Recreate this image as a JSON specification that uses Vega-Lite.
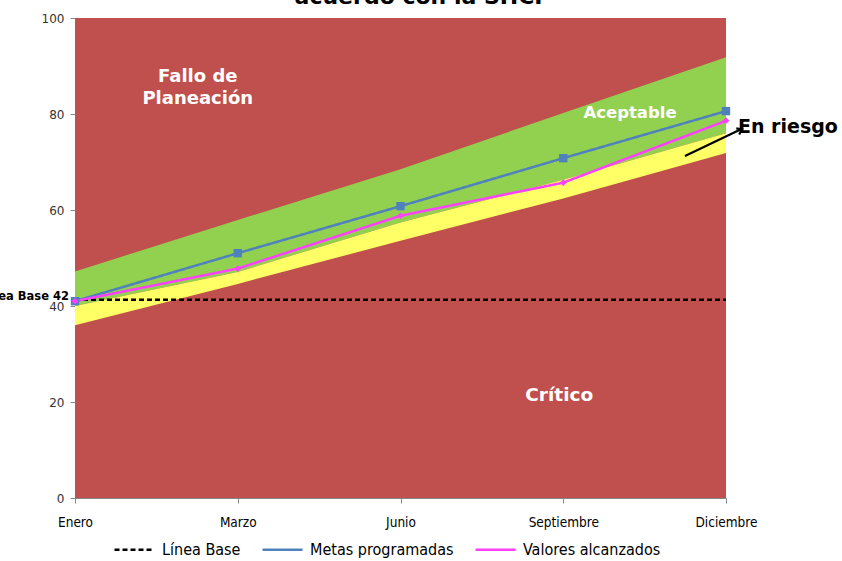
{
  "$schema": "https://vega.github.io/schema/vega-lite/v6.json",
  "autosize": {"type": "none"},
  "width": 651,
  "height": 480,
  "padding": {"left": 75, "top": 18, "right": 116, "bottom": 63},
  "background": "white",
  "datasets": {
    "bandas": [
      {"mes": "Enero", "piso": 0, "techo": 100, "amar_bajo": 36, "amar_alto": 40, "verde_alto": 47.2},
      {"mes": "Marzo", "piso": 0, "techo": 100, "amar_bajo": 44.6, "amar_alto": 47.1, "verde_alto": 57.9},
      {"mes": "Junio", "piso": 0, "techo": 100, "amar_bajo": 53.6, "amar_alto": 57.4, "verde_alto": 68.5},
      {"mes": "Septiembre", "piso": 0, "techo": 100, "amar_bajo": 62.4, "amar_alto": 66.3, "verde_alto": 80.2},
      {"mes": "Diciembre", "piso": 0, "techo": 100, "amar_bajo": 71.9, "amar_alto": 76, "verde_alto": 91.8}
    ],
    "series": [
      {"mes": "Enero", "serie": "Línea Base", "valor": 41.3},
      {"mes": "Marzo", "serie": "Línea Base", "valor": 41.3},
      {"mes": "Junio", "serie": "Línea Base", "valor": 41.3},
      {"mes": "Septiembre", "serie": "Línea Base", "valor": 41.3},
      {"mes": "Diciembre", "serie": "Línea Base", "valor": 41.3},
      {"mes": "Enero", "serie": "Metas programadas", "valor": 41},
      {"mes": "Marzo", "serie": "Metas programadas", "valor": 51},
      {"mes": "Junio", "serie": "Metas programadas", "valor": 60.8},
      {"mes": "Septiembre", "serie": "Metas programadas", "valor": 70.8},
      {"mes": "Diciembre", "serie": "Metas programadas", "valor": 80.6},
      {"mes": "Enero", "serie": "Valores alcanzados", "valor": 41},
      {"mes": "Marzo", "serie": "Valores alcanzados", "valor": 47.8},
      {"mes": "Junio", "serie": "Valores alcanzados", "valor": 58.8},
      {"mes": "Septiembre", "serie": "Valores alcanzados", "valor": 65.7},
      {"mes": "Diciembre", "serie": "Valores alcanzados", "valor": 78.6}
    ]
  },
  "config": {
    "view": {"stroke": null},
    "axis": {"grid": false}
  },
  "encoding": {
    "x": {
      "field": "mes",
      "type": "ordinal",
      "sort": ["Enero", "Marzo", "Junio", "Septiembre", "Diciembre"],
      "scale": {"type": "point", "padding": 0, "domain": ["Enero", "Marzo", "Junio", "Septiembre", "Diciembre"]},
      "axis": {
        "title": null,
        "labelAngle": 0,
        "labelFont": "DejaVu Sans Condensed, Liberation Sans",
        "labelFontSize": 13.5,
        "labelColor": "#000000",
        "labelPadding": 12,
        "tickSize": 5,
        "tickColor": "#868686",
        "domainColor": "#868686"
      }
    }
  },
  "layer": [
    {
      "data": {"name": "bandas"},
      "mark": {"type": "area", "color": "#C0504D", "opacity": 1},
      "encoding": {
        "y": {
          "field": "piso",
          "type": "quantitative",
          "scale": {"domain": [0, 100], "nice": false},
          "axis": {
            "title": null,
            "values": [0, 20, 40, 60, 80, 100],
            "labelFont": "DejaVu Sans",
            "labelFontSize": 12,
            "labelColor": "#333333",
            "labelPadding": 6,
            "tickSize": 5,
            "tickColor": "#868686",
            "domainColor": "#868686"
          }
        },
        "y2": {"field": "techo"}
      }
    },
    {
      "data": {"name": "bandas"},
      "mark": {"type": "area", "color": "#92D050", "opacity": 1},
      "encoding": {
        "y": {"field": "amar_alto", "type": "quantitative"},
        "y2": {"field": "verde_alto"}
      }
    },
    {
      "data": {"name": "bandas"},
      "mark": {"type": "area", "color": "#FFFF66", "opacity": 1},
      "encoding": {
        "y": {"field": "amar_bajo", "type": "quantitative"},
        "y2": {"field": "amar_alto"}
      }
    },
    {
      "data": {"name": "series"},
      "mark": {"type": "line", "strokeWidth": 2.5},
      "encoding": {
        "y": {"field": "valor", "type": "quantitative"},
        "color": {
          "field": "serie",
          "type": "nominal",
          "scale": {
            "domain": ["Línea Base", "Metas programadas", "Valores alcanzados"],
            "range": ["#000000", "#4F81BD", "#FF40FF"]
          },
          "legend": {
            "orient": "none",
            "legendX": 38,
            "legendY": 510,
            "direction": "horizontal",
            "title": null,
            "symbolType": "stroke",
            "symbolSize": 1600,
            "symbolStrokeWidth": 2.5,
            "labelFont": "DejaVu Sans Condensed, Liberation Sans",
            "labelFontSize": 16,
            "labelColor": "#000000",
            "labelOffset": 6,
            "columnPadding": 16
          }
        },
        "strokeDash": {
          "field": "serie",
          "type": "nominal",
          "scale": {
            "domain": ["Línea Base", "Metas programadas", "Valores alcanzados"],
            "range": [[5, 3], [1, 0], [1, 0]]
          }
        }
      }
    },
    {
      "data": {"name": "series"},
      "transform": [{"filter": "datum.serie === 'Metas programadas'"}],
      "mark": {"type": "point", "shape": "square", "filled": true, "size": 70, "color": "#4F81BD", "opacity": 1},
      "encoding": {
        "y": {"field": "valor", "type": "quantitative"}
      }
    },
    {
      "data": {"name": "series"},
      "transform": [{"filter": "datum.serie === 'Valores alcanzados'"}],
      "mark": {"type": "point", "shape": "diamond", "filled": true, "size": 45, "color": "#FF40FF", "opacity": 1},
      "encoding": {
        "y": {"field": "valor", "type": "quantitative"}
      }
    },
    {
      "data": {"values": [{"mes": "Junio", "valor": 102.9, "texto": "acuerdo con la SHCP"}]},
      "mark": {"type": "text", "font": "DejaVu Sans", "fontWeight": "bold", "fontSize": 22, "color": "black", "align": "center", "baseline": "alphabetic", "dx": 22},
      "encoding": {"y": {"field": "valor", "type": "quantitative"}, "text": {"field": "texto"}}
    },
    {
      "data": {"values": [{"mes": "Marzo", "valor": 86.7, "texto": "Fallo de\nPlaneación"}]},
      "mark": {"type": "text", "font": "DejaVu Sans", "fontWeight": "bold", "fontSize": 18, "color": "white", "align": "center", "baseline": "alphabetic", "lineBreak": "\n", "lineHeight": 22, "dx": -40},
      "encoding": {"y": {"field": "valor", "type": "quantitative"}, "text": {"field": "texto"}}
    },
    {
      "data": {"values": [{"mes": "Diciembre", "valor": 79.2, "texto": "Aceptable"}]},
      "mark": {"type": "text", "font": "DejaVu Sans", "fontWeight": "bold", "fontSize": 16.5, "color": "white", "align": "center", "baseline": "alphabetic", "dx": -96},
      "encoding": {"y": {"field": "valor", "type": "quantitative"}, "text": {"field": "texto"}}
    },
    {
      "data": {"values": [{"mes": "Septiembre", "valor": 20.3, "texto": "Crítico"}]},
      "mark": {"type": "text", "font": "DejaVu Sans", "fontWeight": "bold", "fontSize": 18.5, "color": "white", "align": "center", "baseline": "alphabetic", "dx": -4},
      "encoding": {"y": {"field": "valor", "type": "quantitative"}, "text": {"field": "texto"}}
    },
    {
      "data": {"values": [{"mes": "Diciembre", "valor": 76.0, "texto": "En riesgo"}]},
      "mark": {"type": "text", "font": "DejaVu Sans", "fontWeight": "bold", "fontSize": 19, "color": "black", "align": "left", "baseline": "alphabetic", "dx": 12},
      "encoding": {"y": {"field": "valor", "type": "quantitative"}, "text": {"field": "texto"}}
    },
    {
      "data": {"values": [{"mes": "Enero", "valor": 41.35, "texto": "Línea Base 42"}]},
      "mark": {"type": "text", "font": "DejaVu Sans", "fontWeight": "bold", "fontSize": 11.5, "color": "black", "align": "right", "baseline": "alphabetic", "dx": -6},
      "encoding": {"y": {"field": "valor", "type": "quantitative"}, "text": {"field": "texto"}}
    },
    {
      "data": {"values": [{"mes": "Diciembre", "desde": 71.25, "hasta": 76.8}]},
      "mark": {"type": "rule", "color": "black", "strokeWidth": 2.2, "xOffset": -41, "x2Offset": 15},
      "encoding": {
        "x2": {"field": "mes"},
        "y": {"field": "desde", "type": "quantitative"},
        "y2": {"field": "hasta"}
      }
    },
    {
      "data": {"values": [{"mes": "Diciembre", "hasta": 76.8}]},
      "mark": {"type": "point", "shape": "M-1,-0.7L0,0L-1,0.7", "filled": false, "size": 90, "strokeWidth": 2.2, "color": "black", "opacity": 1, "angle": 334, "xOffset": 16},
      "encoding": {
        "y": {"field": "hasta", "type": "quantitative"}
      }
    }
  ]
}
